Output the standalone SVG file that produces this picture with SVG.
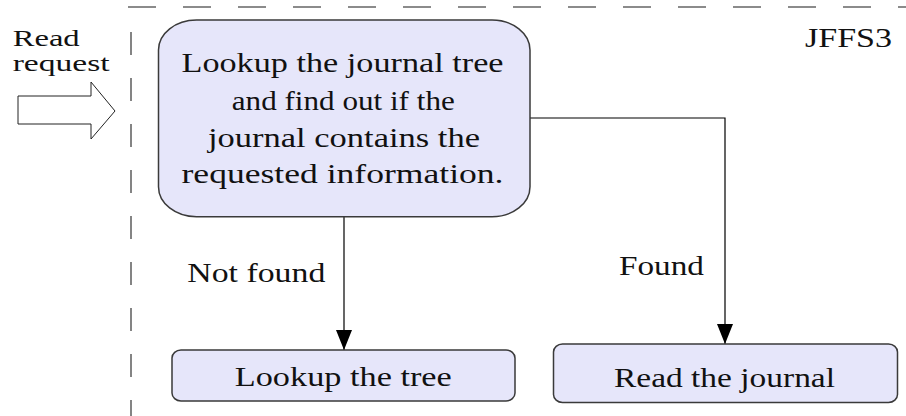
<svg xmlns="http://www.w3.org/2000/svg" width="906" height="416" viewBox="0 0 906 416">
<defs>
<style>
text{font-family:'Liberation Serif','Times New Roman',Times,'Noto Serif','DejaVu Serif',serif;font-size:27px;fill:#111;}
.c{text-anchor:middle;}
.lbl{font-size:23px;}
.node{fill:#e6e6fa;stroke:#3a3a3a;stroke-width:1.5;}
.dash{stroke:#666;stroke-width:1.6;fill:none;}
.conn{stroke:#000;stroke-width:1.2;fill:none;}
</style>
<marker id="ah" markerUnits="userSpaceOnUse" markerWidth="22" markerHeight="18" viewBox="0 0 22 18" refX="21" refY="9" orient="auto">
<path d="M1,1 L21,9 L1,17 Z" fill="#000"/>
</marker>
</defs>
<rect width="906" height="416" fill="#fff"/>
<g id="boundary">
<line class="dash" x1="128" y1="7" x2="906" y2="7" stroke-dasharray="28 27"/>
<line class="dash" x1="131" y1="32" x2="131" y2="416" stroke-dasharray="23 23"/>
<text x="805" y="46.7" textLength="87" lengthAdjust="spacingAndGlyphs">JFFS3</text>
</g>
<g id="input">
<polygon points="18,96 91,96 91,82 115,111 91,139 91,124 18,124" fill="#fff" stroke="#222" stroke-width="1"/>
<text class="lbl" x="12.7" y="45.5" textLength="67" lengthAdjust="spacingAndGlyphs">Read</text>
<text class="lbl" x="12.7" y="71" textLength="97" lengthAdjust="spacingAndGlyphs">request</text>
</g>
<g id="connectors">
<path class="conn" d="M344,217 V350" marker-end="url(#ah)"/>
<path class="conn" d="M530,118 H725 V344" marker-end="url(#ah)"/>
<text x="187.3" y="281.7" textLength="138" lengthAdjust="spacingAndGlyphs">Not found</text>
<text x="619" y="275" textLength="85" lengthAdjust="spacingAndGlyphs">Found</text>
</g>
<g id="lookup-journal">
<rect class="node" x="158.5" y="20" width="371.5" height="196.7" rx="38" ry="30"/>
<text class="c" x="342.5" y="71.7" textLength="322" lengthAdjust="spacingAndGlyphs">Lookup the journal tree</text>
<text class="c" x="343.3" y="110" textLength="223" lengthAdjust="spacingAndGlyphs">and find out if the</text>
<text class="c" x="344" y="146.7" textLength="272" lengthAdjust="spacingAndGlyphs">journal contains the</text>
<text class="c" x="342.5" y="183.3" textLength="322" lengthAdjust="spacingAndGlyphs">requested information.</text>
</g>
<g id="lookup-tree">
<rect class="node" x="172" y="350" width="343" height="51" rx="9" ry="8"/>
<text class="c" x="343.3" y="386" textLength="217" lengthAdjust="spacingAndGlyphs">Lookup the tree</text>
</g>
<g id="read-journal">
<rect class="node" x="553.5" y="344" width="344" height="58.5" rx="9" ry="8"/>
<text class="c" x="724.5" y="387" textLength="221" lengthAdjust="spacingAndGlyphs">Read the journal</text>
</g>
</svg>
